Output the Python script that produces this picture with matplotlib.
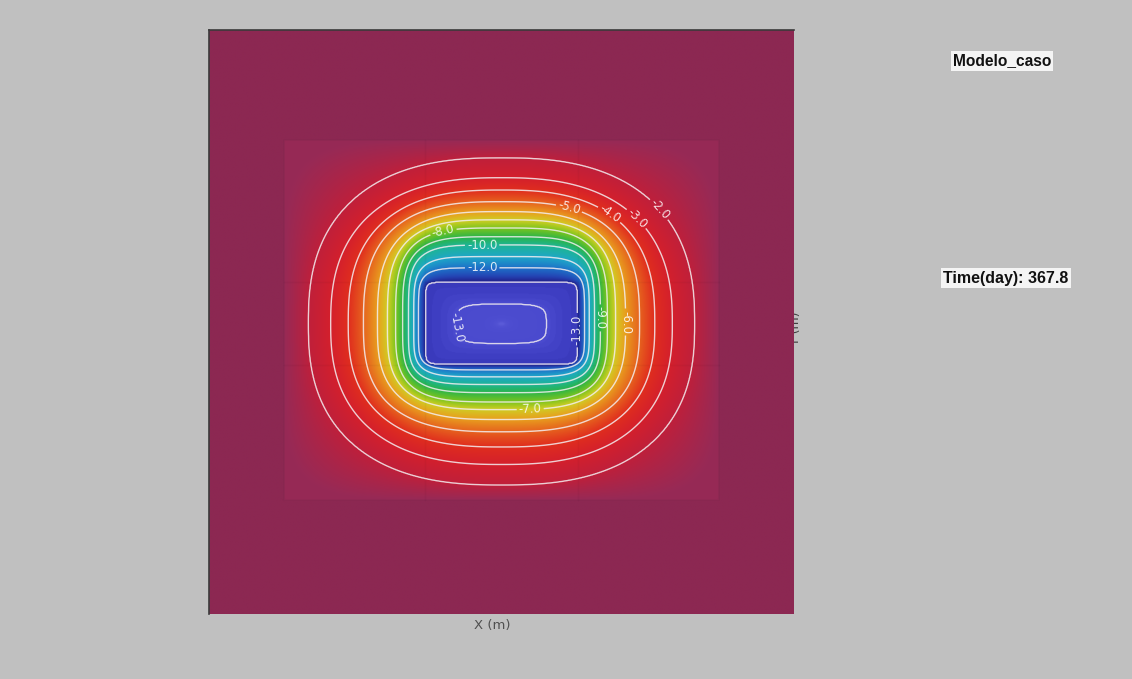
import numpy as np
import matplotlib
matplotlib.use("Agg")
import matplotlib.pyplot as plt
from matplotlib.colors import LinearSegmentedColormap, Normalize

# Isotherm levels (deg C) around the frozen block and the half-extents (m)
# of each isotherm measured from the block centre.
levels      = [-13.15, -13.0, -12.95, -12.0, -11.0, -10.0, -9.0, -8.0, -7.0, -6.0, -5.0, -4.0, -3.0, -2.0, -1.6]
half_width  = [0.4,    7.7,   13.0,   14.2,  15.0,  15.9,  16.9, 18.1, 19.5, 21.2, 23.6, 26.2, 29.2, 33.0, 37.2]
half_top    = [0.2,    3.4,   7.2,    9.6,   11.5,  13.5,  14.9, 16.4, 17.8, 19.2, 20.9, 22.9, 25.0, 28.4, 31.5]
half_bottom = [0.2,    3.4,   7.0,    7.9,   9.1,   10.4,  11.8, 13.4, 14.7, 16.4, 18.5, 21.1, 24.1, 27.6, 30.2]
squareness  = [2.0,    4.0,   14.0,   6.0,   5.0,   4.5,   4.0,  3.6,  3.3,  3.0,  2.8,  2.6,  2.5,  2.5,  6.0]
outer_value = -1.5   # host ground outside the modelled zone

block_center = (50.0, 49.7)
domain_x = (0.0, 100.0)
domain_y = (0.0, 100.0)

line_levels = [-13.0, -12.95, -12.0, -11.0, -10.0, -9.0, -8.0, -7.0, -6.0, -5.0, -4.0, -3.0, -2.0]
label_text = {-13.0: "-13.0", -12.95: "-13.0", -12.0: "-12.0", -10.0: "-10.0",
              -9.0: "-9.0", -8.0: "-8.0", -7.0: "-7.0", -6.0: "-6.0", -5.0: "-5.0",
              -4.0: "-4.0", -3.0: "-3.0", -2.0: "-2.0"}
# where each isotherm carries its label
label_spots = {-2.0: (77.4, 69.7), -3.0: (72.5, 67.1), -4.0: (67.2, 66.6), -5.0: (60.9, 67.1),
               -8.0: (40.7, 62.7), -10.0: (46.7, 60.6), -12.0: (46.7, 58.0), -9.0: (66.0, 50.7),
               -6.0: (70.6, 50.0), -7.0: (54.9, 35.3), -13.0: (41.0, 49.0), -12.95: (62.1, 48.6)}

model_name = "Modelo_caso"
time_label = "Time(day): 367.8"

# colour ramp: (temperature, colour)
ramp = [(-13.15, "#5a5ad8"), (-13.0, "#4a4ace"), (-12.96, "#3c3cc0"), (-12.9, "#22228c"),
        (-12.5, "#2444b4"), (-12.0, "#1e70c8"), (-11.0, "#1ea6c8"), (-10.0, "#1eb496"),
        (-9.0, "#2ab44a"), (-8.0, "#7ac41e"), (-7.0, "#cfcd24"), (-6.0, "#e8a01e"),
        (-5.0, "#e6641e"), (-4.0, "#e02e1e"), (-3.0, "#d4202c"), (-2.0, "#c01f3a"),
        (-1.6, "#972a56"), (-1.5, "#8c2852")]

# ---- temperature field from the nested isotherms ----
lv = np.array(levels)
aw = np.array(half_width)
bt = np.array(half_top)
bb = np.array(half_bottom)
pp = np.array(squareness)

n = 800
gx = np.linspace(*domain_x, n)
gy = np.linspace(*domain_y, n)
X, Y = np.meshgrid(gx, gy)
dx = np.abs(X - block_center[0])
dyr = Y - block_center[1]
dy = np.abs(dyr)

R = np.empty((len(lv),) + X.shape)
for k in range(len(lv)):
    b = np.where(dyr >= 0, bt[k], bb[k])
    R[k] = ((dx / aw[k]) ** pp[k] + (dy / b) ** pp[k]) ** (1.0 / pp[k])

idx = (R > 1).sum(axis=0)
T = np.empty_like(X)
T[idx == 0] = lv[0]
T[idx == len(lv)] = lv[-1]
mid = (idx > 0) & (idx < len(lv))
Rf = R.reshape(len(lv), -1)
pos = np.where(mid.ravel())[0]
k0 = idx.ravel()[pos] - 1
k1 = k0 + 1
r0 = Rf[k0, pos]
r1 = Rf[k1, pos]
t = (r0 - 1.0) / np.maximum(r0 - r1, 1e-9)
Tf = T.ravel()
Tf[pos] = lv[k0] + t * (lv[k1] - lv[k0])
T = Tf.reshape(X.shape)

# outside the rectangular model zone the host ground is uniform
cx, cy = block_center
zx0, zx1 = cx - aw[-1], cx + aw[-1]
zy0, zy1 = cy - bb[-1], cy + bt[-1]
outside = (X < zx0) | (X > zx1) | (Y < zy0) | (Y > zy1)
T[outside] = outer_value

vmin, vmax = ramp[0][0], ramp[-1][0]
cmap = LinearSegmentedColormap.from_list(
    "ground", [((v - vmin) / (vmax - vmin), c) for v, c in ramp], N=1024)
norm = Normalize(vmin=vmin, vmax=vmax)

# ---- figure ----
W, H = 1132, 679
fig = plt.figure(figsize=(W / 100, H / 100), dpi=100, facecolor="#c0c0c0")
ax = fig.add_axes([209 / W, 1 - 614 / H, 585 / W, 584 / H])
ax.set_facecolor("#8c2852")

ax.imshow(T, extent=(*domain_x, *domain_y), origin="lower", cmap=cmap, norm=norm,
          interpolation="bilinear", aspect="auto", zorder=1)

# faint mesh lines of the model zone
for xv in (cx - aw[2], cx + aw[2]):
    ax.plot([xv, xv], [zy0, zy1], color="black", alpha=0.03, lw=1, zorder=2)
for yv in (cy - bb[2], cy + bt[2]):
    ax.plot([zx0, zx1], [yv, yv], color="black", alpha=0.03, lw=1, zorder=2)
ax.plot([zx0, zx1, zx1, zx0, zx0], [zy0, zy0, zy1, zy1, zy0], color="black", alpha=0.025, lw=1.5, zorder=2)

# isotherms, each drawn on its own so its label lands on the right line
for lvl in line_levels:
    cs = ax.contour(X, Y, T, levels=[lvl], colors="#f4eef0", linewidths=1.0, alpha=0.85,
                    linestyles="solid", zorder=3)
    if lvl in label_spots:
        ax.clabel(cs, manual=[label_spots[lvl]], fmt={lvl: label_text[lvl]}, inline=True,
                  inline_spacing=2, fontsize=8.5, colors="white")

ax.set_xlim(*domain_x)
ax.set_ylim(*domain_y)
ax.set_xticks([])
ax.set_yticks([])
for side in ("right", "bottom"):
    ax.spines[side].set_visible(False)
for side in ("left", "top"):
    ax.spines[side].set_color("#3a3a3a")
    ax.spines[side].set_linewidth(1.2)

fig.text(492 / W, 1 - 625 / H, "X (m)", ha="center", va="center", color="#505050", fontsize=9.5)
fig.text(796 / W, 1 - 328 / H, "Y (m)", ha="center", va="center", color="#404040",
         fontsize=9, rotation=90, zorder=-1)

box = dict(facecolor="#f4f4f4", edgecolor="none", pad=1.5)
fig.text(1002 / W, 1 - 61 / H, model_name, ha="center", va="center", fontsize=11.2,
         fontweight="bold", family="Liberation Sans", color="#111111", bbox=box)
fig.text(1006 / W, 1 - 278 / H, time_label, ha="center", va="center", fontsize=11.5,
         fontweight="bold", family="Liberation Sans", color="#111111", bbox=box)

fig.savefig("out.png", dpi=100, facecolor=fig.get_facecolor())
